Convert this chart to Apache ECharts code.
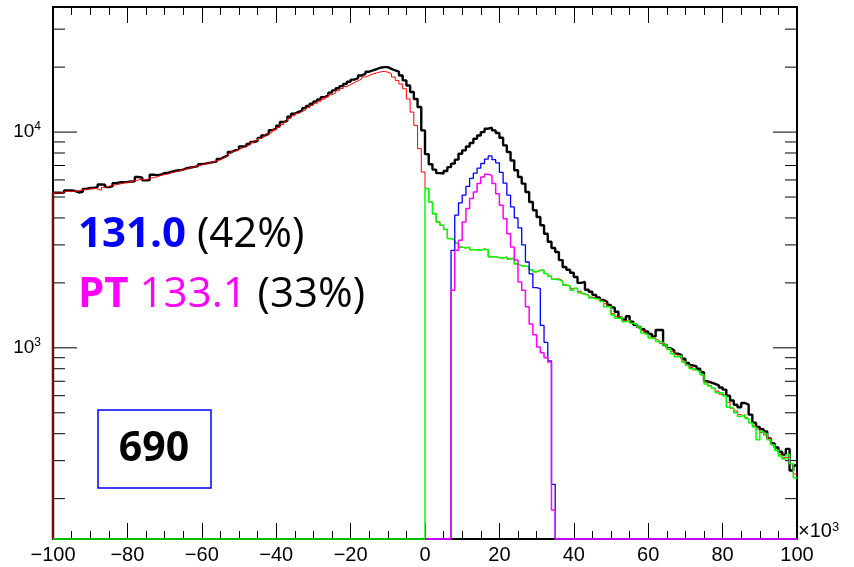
<!DOCTYPE html>
<html><head><meta charset="utf-8">
<script src="https://cdn.jsdelivr.net/npm/echarts@6/dist/echarts.min.js"></script>
<style>html,body{margin:0;padding:0;background:#fff}#c{width:854px;height:567px}</style>
</head><body><div id="c"></div>
<script>
// ---- axis ranges / ticks ----
const xMin = -100, xMax = 100, binWidth = 1;
const xTickStep = 20;
const yMin = 130, yMax = 38000;
const yMajorTicks = [1000, 10000];
const yMinorTicks = [200,300,400,500,600,700,800,900,2000,3000,4000,5000,6000,7000,8000,9000,20000,30000];
const xUnitLabel = ['\u00d710', '3'];

// ---- histogram contents (bins of width 1) ----
const dataCounts = [
 5230,5230,5250,5370,5370,5330,5250,5280,5450,5510,
 5510,5560,5720,5700,5560,5600,5800,5850,5860,5870,
 5900,5920,6190,6150,5975,6000,6340,6320,6340,6460,
 6480,6550,6620,6650,6700,6800,6850,6900,6950,7100,
 7140,7200,7260,7300,7500,7660,7800,8100,8230,8350,
 8580,8600,8800,8990,9100,9400,9650,9800,10200,10370,
 10700,11130,11300,11800,12170,12400,12600,12910,13200,13530,
 13870,14170,14530,14780,15230,15600,15960,16330,16700,17100,
 17500,17800,18300,18630,19050,19300,19570,19870,20000,20000,
 19640,19300,19050,18300,17360,16450,15330,14240,13060,10180,
 7900,7100,6700,6450,6430,6600,6880,7140,7450,7940,
 8230,8580,8900,9320,9650,10000,10370,10480,10180,9900,
 9420,8680,8080,7390,6650,6190,5770,5280,4740,4340,
 4040,3700,3380,3100,2900,2780,2550,2370,2300,2230,
 2130,2000,2020,1860,1820,1760,1710,1665,1635,1580,
 1540,1470,1380,1350,1400,1320,1280,1250,1220,1190,
 1160,1130,1210,1210,1030,995,975,940,925,890,
 850,830,820,800,770,700,690,680,670,655,
 640,600,570,545,530,555,545,490,450,430,
 420,410,380,360,345,330,320,340,270,285
];
const bkgCounts = [
 5230,5200,5280,5320,5300,5330,5350,5400,5420,5450,
 5500,5450,5380,5550,5600,5650,5700,5750,5800,5850,
 5900,5950,6000,6050,6000,6100,6150,6200,6300,6350,
 6400,6500,6550,6600,6700,6750,6850,6900,7000,7050,
 7100,7200,7280,7350,7450,7600,7750,7950,8150,8300,
 8450,8600,8750,8950,9150,9350,9550,9800,10000,10250,
 10500,10850,11150,11550,11900,12200,12450,12700,13000,13300,
 13600,13900,14200,14550,14900,15200,15550,15900,16250,16600,
 16950,17300,17600,18000,18300,18600,18800,19000,19100,18970,
 18630,18000,17360,16700,15880,14240,12380,10740,8380,6530,
 5475,4740,4180,3830,3700,3540,3210,3155,3050,2930,
 2900,2930,2850,2850,2830,2870,2850,2640,2640,2620,
 2600,2640,2580,2600,2450,2400,2390,2380,2300,2250,
 2290,2290,2210,2150,2080,2090,2050,1960,1940,1880,
 1890,1830,1780,1760,1720,1700,1680,1650,1600,1560,
 1440,1400,1380,1340,1330,1300,1280,1250,1200,1160,
 1120,1100,1080,1050,1030,990,960,930,910,870,
 830,810,790,775,750,700,670,650,630,610,
 600,560,525,510,490,480,470,450,435,420,
 405,395,380,355,335,320,310,310,290,260
];
// green: histogram over the full range, empty below x = 0
const greenStart = 0;
const greenCounts = [
 5475,4740,4180,3830,3700,3540,3210,3155,3050,2930,
 2900,2930,2850,2850,2830,2870,2850,2640,2640,2620,
 2600,2640,2580,2600,2450,2400,2390,2380,2300,2250,
 2290,2290,2210,2150,2080,2070,2030,1950,1940,1850,
 1890,1800,1770,1750,1700,1690,1680,1640,1550,1550,
 1420,1370,1380,1320,1340,1300,1280,1250,1170,1150,
 1110,1100,1070,1060,1030,990,940,910,920,860,
 830,800,790,775,750,680,665,650,620,620,
 600,530,525,500,480,490,470,450,430,375,
 410,400,375,355,335,315,305,320,290,250
];
// blue / magenta: histograms over [0, 100], non-empty from x = 7
const signalLo = 0;
const signalStart = 7;
const blueCounts = [2830,4120,4700,5100,5600,6100,6450,6800,7150,7500,7750,7450,7200,6500,5800,5100,4500,4000,3600,3000,2500,2200,1900,1880,1270,1060,870,233];
const magentaCounts = [1850,2830,3150,3830,4420,4920,5280,5770,6190,6370,6300,5770,5180,4580,3970,3380,2930,2550,2020,1850,1550,1290,1150,1010,950,900,860,177];

// ---- annotation texts ----
const line1 = ['131.0', '(42%)'];
const line2 = ['PT', '133.1', '(33%)'];
const boxText = '690';

function binsOver(lo, start, vals) {
  const n = Math.round((xMax - lo) / binWidth);
  const a = new Array(n).fill(0);
  const off = Math.round((start - lo) / binWidth);
  vals.forEach((v, i) => { a[off + i] = v; });
  return a;
}
function histPoints(lo, counts) {
  const pts = [[lo, yMin]];
  counts.forEach((c, i) => pts.push([lo + i * binWidth, c > 0 ? c : yMin]));
  const last = counts[counts.length - 1];
  pts.push([lo + counts.length * binWidth, last > 0 ? last : yMin]);
  return pts;
}
function histSeries(name, lo, counts, color, width) {
  return {
    name, type: 'line', step: 'end', data: histPoints(lo, counts),
    showSymbol: false, symbol: 'none', clip: false, animation: false,
    lineStyle: { color, width }, silent: true
  };
}

const tickVals = yMajorTicks.concat(yMinorTicks).map(v => [xMin, v]);
const tickSeries = {
  type: 'custom', silent: true, animation: false, clip: false,
  data: tickVals, encode: { x: 0, y: 1 },
  renderItem(params, api) {
    const v = api.value(1);
    const len = yMajorTicks.indexOf(v) >= 0 ? 24 : 12;
    const pL = api.coord([xMin, v]);
    const pR = api.coord([xMax, v]);
    return { type: 'group', children: [
      { type: 'line', shape: { x1: pL[0], y1: pL[1], x2: pL[0] + len, y2: pL[1] }, style: { stroke: '#000', lineWidth: 1 } },
      { type: 'line', shape: { x1: pR[0] - len, y1: pR[1], x2: pR[0], y2: pR[1] }, style: { stroke: '#000', lineWidth: 1 } }
    ]};
  }
};

const fmtX = v => v < 0 ? '\u2212' + (-v) : String(v);
const annFont = "'Open Sans'";

const chart = echarts.init(document.getElementById('c'), null, { renderer: 'canvas' });
chart.setOption({
  backgroundColor: '#fff',
  animation: false,
  grid: { left: 53, right: 57, top: 7, bottom: 28, show: true, borderColor: '#000', borderWidth: 2, backgroundColor: 'transparent' },
  xAxis: [{
    type: 'value', min: xMin, max: xMax, interval: xTickStep, position: 'bottom',
    axisLine: { show: false },
    axisTick: { show: true, inside: true, length: 16, lineStyle: { color: '#000', width: 1 } },
    minorTick: { show: true, splitNumber: 4, length: 8, lineStyle: { color: '#000', width: 1 } },
    splitLine: { show: false }, minorSplitLine: { show: false },
    axisLabel: { formatter: fmtX, color: '#000', fontFamily: 'Liberation Sans', fontSize: 20, margin: 6 }
  }, {
    type: 'value', min: xMin, max: xMax, interval: xTickStep, position: 'top',
    axisLine: { show: false },
    axisTick: { show: true, inside: true, length: 16, lineStyle: { color: '#000', width: 1 } },
    minorTick: { show: true, splitNumber: 4, length: 8, lineStyle: { color: '#000', width: 1 } },
    splitLine: { show: false }, axisLabel: { show: false }
  }],
  yAxis: {
    type: 'log', logBase: 10, min: yMin, max: yMax,
    axisLine: { show: false }, axisTick: { show: false }, splitLine: { show: false }, minorTick: { show: false },
    axisLabel: {
      showMinLabel: false, showMaxLabel: false, margin: 12,
      formatter: v => '{m|10}{e|' + Math.round(Math.log10(v)) + '}',
      rich: {
        m: { fontFamily: 'Liberation Sans', fontSize: 19, color: '#000' },
        e: { fontFamily: 'Liberation Sans', fontSize: 12, color: '#000', verticalAlign: 'top', padding: [0, 0, 10, 0] }
      }
    }
  },
  series: [
    histSeries('data', xMin, dataCounts, '#000000', 2.4),
    histSeries('bkg', xMin, bkgCounts, '#ff0000', 1),
    histSeries('green', xMin, binsOver(xMin, greenStart, greenCounts), '#00ff00', 1.5),
    histSeries('blue', signalLo, binsOver(signalLo, signalStart, blueCounts), '#0000ff', 1.3),
    histSeries('magenta', signalLo, binsOver(signalLo, signalStart, magentaCounts), '#ff00ff', 1.5),
    tickSeries
  ],
  graphic: [
    { type: 'text', left: 798, top: 521, silent: true, style: {
      text: '{m|' + xUnitLabel[0] + '}{s|' + xUnitLabel[1] + '}',
      rich: { m: { fontFamily: 'Liberation Sans', fontSize: 20, fill: '#000', verticalAlign: 'bottom' },
              s: { fontFamily: 'Liberation Sans', fontSize: 13, fill: '#000', verticalAlign: 'top' } } } },
    { type: 'text', left: 78, top: 214, silent: true, style: {
      text: '{a|' + line1[0] + '}{b| ' + line1[1] + '}',
      rich: { a: { fontFamily: annFont, fontWeight: 'bold', fontSize: 42, fill: '#0000ff' },
              b: { fontFamily: annFont, fontSize: 42, fill: '#000' } } } },
    { type: 'text', left: 78, top: 274, silent: true, style: {
      text: '{p|' + line2[0] + '}{q| ' + line2[1] + '}{b| ' + line2[2] + '}',
      rich: { p: { fontFamily: annFont, fontWeight: 'bold', fontSize: 42, fill: '#ff00ff' },
              q: { fontFamily: annFont, fontSize: 42, fill: '#ff00ff' },
              b: { fontFamily: annFont, fontSize: 42, fill: '#000' } } } },
    { type: 'rect', silent: true, shape: { x: 98, y: 410, width: 113, height: 78 },
      style: { fill: 'none', stroke: '#0000ff', lineWidth: 1.5 } },
    { type: 'text', silent: true, x: 154, y: 449, style: {
      text: boxText, fontFamily: annFont, fontWeight: 'bold', fontSize: 41, fill: '#000',
      align: 'center', verticalAlign: 'middle' } }
  ]
});
</script></body></html>
